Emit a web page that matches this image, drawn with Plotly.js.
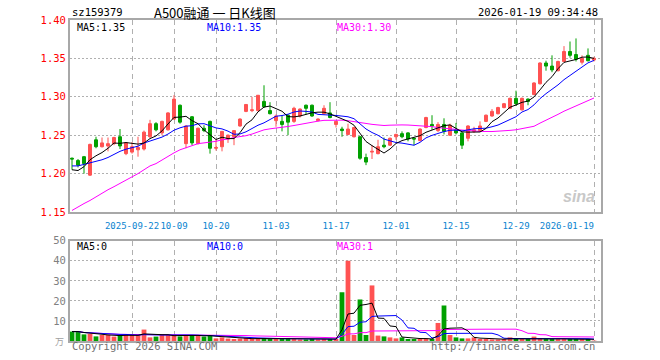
<!DOCTYPE html>
<html>
<head>
<meta charset="utf-8">
<script src="https://cdn.plot.ly/plotly-3.0.1.min.js"></script>
<style>html,body{margin:0;padding:0;background:#fff;}#chart{width:660px;height:360px;}</style>
</head>
<body>
<div id="chart"></div>
<script>
const dates = [
"2025-09-08","2025-09-09","2025-09-10","2025-09-11","2025-09-12","2025-09-15","2025-09-16","2025-09-17","2025-09-18","2025-09-19",
"2025-09-22","2025-09-23","2025-09-24","2025-09-25","2025-09-26","2025-09-29","2025-09-30","2025-10-09","2025-10-10","2025-10-13",
"2025-10-14","2025-10-15","2025-10-16","2025-10-17","2025-10-20","2025-10-21","2025-10-22","2025-10-23","2025-10-24","2025-10-27",
"2025-10-28","2025-10-29","2025-10-30","2025-10-31","2025-11-03","2025-11-04","2025-11-05","2025-11-06","2025-11-07","2025-11-10",
"2025-11-11","2025-11-12","2025-11-13","2025-11-14","2025-11-17","2025-11-18","2025-11-19","2025-11-20","2025-11-21","2025-11-24",
"2025-11-25","2025-11-26","2025-11-27","2025-11-28","2025-12-01","2025-12-02","2025-12-03","2025-12-04","2025-12-05","2025-12-08",
"2025-12-09","2025-12-10","2025-12-11","2025-12-12","2025-12-15","2025-12-16","2025-12-17","2025-12-18","2025-12-19","2025-12-22",
"2025-12-23","2025-12-24","2025-12-25","2025-12-26","2025-12-29","2025-12-30","2025-12-31","2026-01-05","2026-01-06","2026-01-07",
"2026-01-08","2026-01-09","2026-01-12","2026-01-13","2026-01-14","2026-01-15","2026-01-16","2026-01-19"];

const opens = [1.220,1.217,1.222,1.198,1.244,1.235,1.236,1.239,1.248,1.226,
1.228,1.231,1.232,1.248,1.265,1.253,1.257,1.271,1.289,1.239,
1.274,1.239,1.259,1.268,1.233,1.235,1.245,1.248,1.262,1.281,
1.282,1.282,1.294,1.282,1.269,1.268,1.276,1.268,1.275,1.289,
1.289,1.269,1.278,1.279,1.264,1.258,1.251,1.248,1.248,1.221,
1.228,1.226,1.237,1.237,1.248,1.252,1.253,1.246,1.243,1.260,
1.264,1.256,1.264,1.250,1.257,1.253,1.246,1.255,1.256,1.268,
1.275,1.278,1.286,1.285,1.298,1.283,1.297,1.303,1.317,1.344,
1.340,1.334,1.346,1.359,1.355,1.345,1.354,1.348];

const highs = [1.221,1.219,1.223,1.239,1.248,1.247,1.247,1.248,1.258,1.241,
1.241,1.248,1.256,1.270,1.267,1.269,1.280,1.302,1.290,1.263,
1.275,1.260,1.263,1.269,1.245,1.255,1.251,1.256,1.272,1.290,
1.300,1.302,1.315,1.293,1.277,1.275,1.277,1.287,1.285,1.290,
1.290,1.272,1.289,1.293,1.268,1.261,1.265,1.261,1.249,1.226,
1.237,1.244,1.247,1.247,1.252,1.255,1.254,1.247,1.259,1.274,
1.276,1.267,1.272,1.265,1.266,1.254,1.263,1.261,1.268,1.277,
1.284,1.287,1.292,1.299,1.308,1.299,1.298,1.319,1.345,1.347,
1.354,1.347,1.366,1.372,1.376,1.354,1.363,1.352];

const lows = [1.205,1.208,1.200,1.197,1.233,1.234,1.229,1.237,1.232,1.224,
1.226,1.222,1.230,1.246,1.255,1.250,1.256,1.270,1.265,1.233,
1.237,1.238,1.254,1.226,1.230,1.229,1.240,1.237,1.261,1.280,
1.280,1.281,1.286,1.277,1.261,1.255,1.250,1.266,1.273,1.277,
1.274,1.268,1.277,1.272,1.260,1.248,1.250,1.247,1.218,1.211,
1.219,1.225,1.233,1.236,1.244,1.246,1.242,1.237,1.242,1.259,
1.257,1.254,1.251,1.249,1.251,1.232,1.242,1.253,1.255,1.267,
1.274,1.277,1.285,1.284,1.288,1.282,1.289,1.302,1.316,1.334,
1.332,1.333,1.345,1.351,1.346,1.342,1.346,1.346];

const closes = [1.219,1.211,1.213,1.238,1.235,1.240,1.239,1.247,1.236,1.240,
1.235,1.234,1.254,1.265,1.257,1.268,1.279,1.297,1.267,1.262,
1.240,1.259,1.256,1.233,1.234,1.255,1.250,1.256,1.271,1.290,
1.283,1.302,1.287,1.278,1.275,1.264,1.267,1.285,1.284,1.285,
1.275,1.271,1.285,1.273,1.268,1.256,1.258,1.260,1.220,1.215,
1.229,1.235,1.235,1.246,1.251,1.248,1.245,1.245,1.258,1.273,
1.262,1.264,1.255,1.263,1.253,1.237,1.262,1.257,1.262,1.276,
1.281,1.286,1.291,1.298,1.291,1.298,1.294,1.318,1.344,1.340,
1.335,1.346,1.359,1.354,1.349,1.350,1.347,1.350];

// volume (万)
const volumes = [4.7,4.7,3.3,3.5,2.3,3.0,3.0,2.2,3.0,3.0,
3.0,3.0,5.7,1.8,2.2,3.0,3.0,3.2,2.3,2.8,
3.0,2.6,2.2,2.8,1.3,1.8,1.2,1.0,1.2,1.5,
1.0,1.3,1.5,1.0,1.0,1.0,1.2,1.0,0.8,0.8,
1.0,0.8,1.0,1.0,1.0,24.3,40.0,3.0,20.7,3.0,
27.7,2.7,2.3,1.8,1.3,1.8,1.0,1.0,1.0,1.2,
1.0,9.0,17.7,3.0,1.8,1.3,1.3,1.8,1.0,1.0,
0.8,0.8,1.0,1.8,1.0,1.0,1.0,2.2,1.3,1.0,
1.0,1.0,1.0,1.0,1.0,1.0,1.0,0.2];

// moving-average values before a full window exists
const ma5Head = [1.205,1.204,1.209,1.218];
const ma10Head = [1.210,1.210,1.212,1.214,1.216,1.218,1.221,1.225,1.229];
const ma30Head = [1.152,1.157,1.161,1.165,1.170,1.174,1.179,1.183,1.187,1.191,
1.196,1.200,1.205,1.210,1.213,1.218,1.222,1.227,1.231,1.234,
1.237,1.239,1.240,1.241,1.242,1.244,1.245,1.247,1.248];

const NB = '\u00a0';
const xTickVals = ["2025-09-22","2025-10-09","2025-10-20","2025-11-03","2025-11-17","2025-12-01","2025-12-15","2025-12-29","2026-01-19"];
const xTickText = ["2025-09-22","10-09","10-20","11-03","11-17","12-01","12-15","12-29","2026-01-19" + NB.repeat(10)];
const priceTicks = [1.15,1.20,1.25,1.30,1.35,1.40];
const volTicks = [10,20,30,40,50];

function movAvg(vals, n, head) {
  return vals.map((v, i) => {
    if (i < n - 1) {
      if (head) return head[i];
      const s = vals.slice(0, i + 1);
      return s.reduce((a, b) => a + b, 0) / s.length;
    }
    const s = vals.slice(i - n + 1, i + 1);
    return s.reduce((a, b) => a + b, 0) / n;
  });
}

const RED = '#ff5252', GREEN = '#00a000';
const MONO = '"DejaVu Sans Mono", "Liberation Mono", monospace';

const traces = [
  {
    type: 'candlestick', x: dates, open: opens, high: highs, low: lows, close: closes,
    xaxis: 'x', yaxis: 'y',
    increasing: {line: {color: RED, width: 1}, fillcolor: RED},
    decreasing: {line: {color: GREEN, width: 1}, fillcolor: GREEN},
    whiskerwidth: 0, hoverinfo: 'skip', showlegend: false
  },
  {type: 'scatter', mode: 'lines', x: dates, y: movAvg(closes, 30, ma30Head), line: {color: '#ff00ff', width: 1}, xaxis: 'x', yaxis: 'y', hoverinfo: 'skip'},
  {type: 'scatter', mode: 'lines', x: dates, y: movAvg(closes, 10, ma10Head), line: {color: '#0000ff', width: 1}, xaxis: 'x', yaxis: 'y', hoverinfo: 'skip'},
  {type: 'scatter', mode: 'lines', x: dates, y: movAvg(closes, 5, ma5Head), line: {color: '#000000', width: 1}, xaxis: 'x', yaxis: 'y', hoverinfo: 'skip'},
  {
    type: 'bar', x: dates, y: volumes, xaxis: 'x2', yaxis: 'y2',
    marker: {color: closes.map((c, i) => c >= opens[i] ? RED : GREEN), line: {width: 0}},
    hoverinfo: 'skip'
  },
  {type: 'scatter', mode: 'lines', x: dates, y: movAvg(volumes, 30), line: {color: '#ff00ff', width: 1}, xaxis: 'x2', yaxis: 'y2', hoverinfo: 'skip'},
  {type: 'scatter', mode: 'lines', x: dates, y: movAvg(volumes, 10), line: {color: '#0000ff', width: 1}, xaxis: 'x2', yaxis: 'y2', hoverinfo: 'skip'},
  {type: 'scatter', mode: 'lines', x: dates, y: movAvg(volumes, 5), line: {color: '#000000', width: 1}, xaxis: 'x2', yaxis: 'y2', hoverinfo: 'skip'}
];

const L = 70, R = 601, T = 20, B = 341;
const px = x => (x - L) / (R - L);
const py = y => (B - y) / (B - T);

function ann(text, x, y, color, xanchor, size, family) {
  return {text: text, x: px(x), y: py(y), xref: 'paper', yref: 'paper', showarrow: false,
    xanchor: xanchor || 'left', yanchor: 'middle',
    font: {family: family || MONO, size: size || 10, color: color || '#000'}};
}

const gridAxisX = {
  type: 'category', range: [-0.333, 88.167], tickvals: xTickVals, ticktext: xTickText,
  showgrid: true, gridcolor: '#b0b0b0', gridwidth: 1, griddash: '5px,4px',
  showline: true, mirror: true, linecolor: '#a8a8a8', linewidth: 2,
  ticks: '', tickangle: 0, zeroline: false, fixedrange: true, rangeslider: {visible: false}
};

const layout = {
  width: 660, height: 360,
  margin: {l: L, r: 660 - R, t: T, b: 360 - B},
  paper_bgcolor: '#fff', plot_bgcolor: '#fff',
  showlegend: false, bargap: 0.2,
  xaxis: Object.assign({}, gridAxisX, {anchor: 'y', domain: [0, 1], ticklabelstandoff: 4,
    tickfont: {family: MONO, size: 9, color: '#0a84d0'}}),
  xaxis2: Object.assign({}, gridAxisX, {anchor: 'y2', domain: [0, 1], matches: 'x', showticklabels: false}),
  yaxis: {
    domain: [py(212), 1], range: [1.15, 1.40], tickvals: priceTicks, ticktext: priceTicks.map(v => v.toFixed(2)),
    tickfont: {family: MONO, size: 10.5, color: '#ff0000'},
    showgrid: true, gridcolor: '#b0b0b0', griddash: '2px,2px', gridwidth: 1,
    showline: true, mirror: true, linecolor: '#a8a8a8', linewidth: 2,
    ticks: '', zeroline: false, fixedrange: true, anchor: 'x'
  },
  yaxis2: {
    domain: [0, py(240.7)], range: [0, 50], tickvals: volTicks, ticktext: volTicks.map(String),
    tickfont: {family: MONO, size: 10.5, color: '#808080'},
    showgrid: true, gridcolor: '#b0b0b0', griddash: '2px,2px', gridwidth: 1,
    showline: true, mirror: true, linecolor: '#a8a8a8', linewidth: 2,
    ticks: '', zeroline: false, fixedrange: true, anchor: 'x2'
  },
  annotations: [
    ann('sz159379', 70, 12.5, '#000', 'left', 10.5),
    ann('A500融通 一 日K线图', 152, 12.5, '#000', 'left', 13, '"Noto Sans CJK SC", sans-serif'),
    ann('2026-01-19 09:34:48', 600, 12.5, '#000', 'right', 10.5),
    ann('MA5:1.35', 75, 27, '#000', 'left', 10),
    ann('MA10:1.35', 205, 27, '#0000ff', 'left', 10),
    ann('MA30:1.30', 335, 27, '#ff00ff', 'left', 10),
    ann('MA5:0', 75, 246.5, '#000', 'left', 10),
    ann('MA10:0', 205, 246.5, '#0000ff', 'left', 10),
    ann('MA30:1', 335, 246.5, '#ff00ff', 'left', 10),
    ann('Copyright 2026 SINA.COM', 70, 346, '#707070', 'left', 10.5),
    ann('http://finance.sina.com.cn', 597, 346, '#707070', 'right', 10.5),
    ann('<b><i>sina</i></b>', 597, 196, '#c8c8c8', 'right', 16, '"Liberation Sans", Arial, sans-serif'),
    ann('万', 66, 342, '#a0a0a0', 'right', 9, '"Noto Sans CJK SC", sans-serif')
  ]
};

Plotly.newPlot('chart', traces, layout, {staticPlot: true, displayModeBar: false});
</script>
</body>
</html>
